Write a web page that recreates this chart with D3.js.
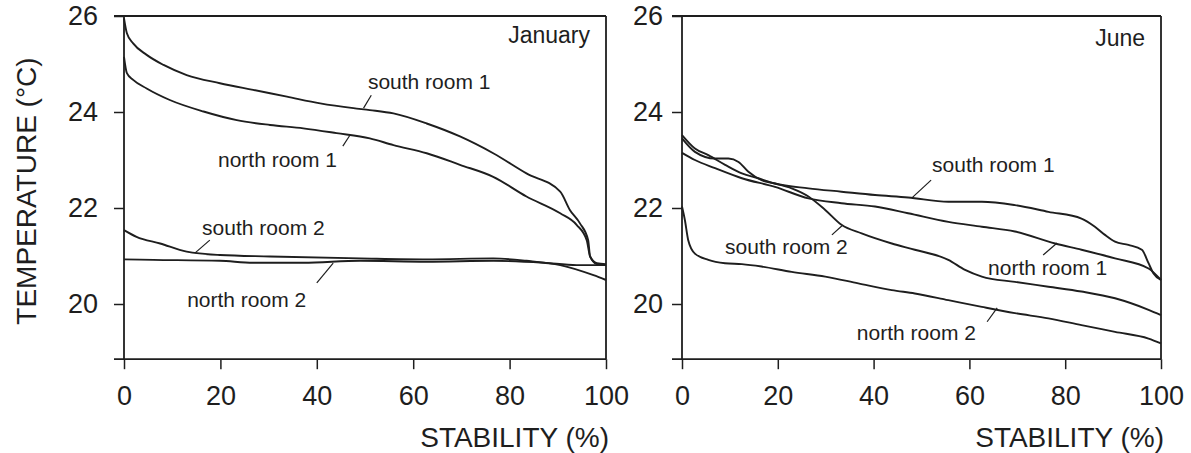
<!DOCTYPE html>
<html>
<head>
<meta charset="utf-8">
<script src="https://cdn.jsdelivr.net/npm/d3@7"></script>
<style>
  body { margin: 0; background: #fff; }
  svg { display: block; font-family: "Liberation Sans", Arial, Helvetica, sans-serif; }
</style>
</head>
<body>
<div id="chart"></div>
<script>
const width = 1191;
const height = 453;

// stability (%) , temperature (degC) pairs
const janSouth1 = [[0,25.95],[0.6,25.64],[1.9,25.43],[4.7,25.19],[8.2,24.98],[13,24.77],[19.9,24.6],[26.8,24.46],[33.8,24.32],[40.7,24.18],[47.6,24.08],[51,24.04],[55.9,23.97],[62.8,23.76],[69.7,23.49],[76.6,23.14],[83.5,22.72],[90.5,22.34],[92.5,21.96],[94.6,21.68],[96.3,21.33],[96.7,20.99],[98.1,20.85],[100,20.83]];
const janNorth1 = [[0,25.15],[0.6,24.81],[1.9,24.67],[4.7,24.49],[9.5,24.25],[16.5,24.01],[23.4,23.83],[30.3,23.73],[37.2,23.66],[44.1,23.56],[51,23.45],[55.9,23.31],[62.8,23.14],[69.7,22.9],[76.6,22.65],[83.5,22.24],[90.5,21.89],[93.9,21.65],[96,21.33],[96.7,20.99],[98.1,20.83],[100,20.81]];
const janSouth2 = [[0,21.54],[2.6,21.4],[7.5,21.26],[13,21.09],[19.9,21.02],[30.3,20.99],[49,20.95],[62.8,20.93],[76.6,20.95],[83.5,20.9],[90.5,20.81],[97.4,20.6],[100,20.5]];
const janNorth2 = [[0,20.93],[6.1,20.92],[19.9,20.9],[26.8,20.86],[37.2,20.86],[49,20.9],[62.8,20.88],[76.6,20.9],[87,20.86],[93.9,20.81],[100,20.81]];

const junSouth1 = [[0,23.52],[2.7,23.24],[5.5,23.1],[9,22.9],[12.5,22.72],[15.9,22.62],[19.4,22.51],[26.4,22.41],[33.3,22.34],[40.3,22.27],[47.2,22.22],[55.6,22.13],[62.6,22.13],[69.5,22.06],[76.5,21.92],[83.4,21.78],[86.2,21.61],[88.3,21.44],[90.4,21.3],[93.2,21.23],[96,21.13],[97.4,20.85],[98.4,20.64],[100,20.5]];
const junNorth1 = [[0,23.15],[2.7,23],[6.9,22.83],[12.5,22.62],[19.4,22.44],[26.4,22.2],[33.3,22.1],[40.3,22.03],[47.2,21.89],[55.6,21.71],[62.6,21.61],[69.5,21.51],[77.9,21.26],[83.4,21.13],[90.4,20.95],[97.4,20.74],[100,20.5]];
const junSouth2 = [[0,23.45],[2.7,23.17],[6.9,23.03],[9.7,23.03],[11.8,22.96],[13.8,22.76],[16.6,22.58],[19.4,22.51],[22.9,22.41],[26.4,22.24],[29.9,21.96],[33.3,21.65],[37.5,21.47],[43.8,21.26],[48.6,21.13],[55.6,20.92],[59.1,20.71],[62.6,20.57],[69.5,20.46],[76.5,20.36],[83.4,20.26],[90.4,20.12],[97.4,19.88],[100,19.77]];
const junNorth2 = [[0,22.03],[0.6,21.75],[1.3,21.33],[2.7,21.05],[5.5,20.92],[9,20.85],[12.5,20.83],[16.6,20.78],[22.9,20.67],[29.9,20.57],[36.8,20.43],[43.8,20.29],[48.6,20.22],[55.6,20.08],[62.6,19.94],[69.5,19.81],[76.5,19.7],[83.4,19.56],[90.4,19.42],[97.4,19.28],[100,19.18]];

const xTicks = [0, 20, 40, 60, 80, 100];
const yTicks = [20, 22, 24, 26];
const yMin = 18.85;
const yMax = 26;

// curve labels: text start + leader line, all in data units
const janLabels = [
  { text: "south room 1", s: 50.6, t: 24.63, from: [51.3, 24.35], to: [49.7, 24.08] },
  { text: "north room 1", s: 19.5, t: 23.0, from: [46.9, 23.52], to: [45.4, 23.29] },
  { text: "south room 2", s: 16.2, t: 21.58, from: [17.8, 21.33], to: [14.7, 21.06] },
  { text: "north room 2", s: 13.1, t: 20.08, from: [43.4, 20.85], to: [40.0, 20.44] }
];
const junLabels = [
  { text: "south room 1", s: 52.2, t: 22.9, from: [52.0, 22.58], to: [48.0, 22.21] },
  { text: "north room 1", s: 63.9, t: 20.75, from: [78.3, 21.27], to: [75.4, 21.02] },
  { text: "south room 2", s: 9.0, t: 21.19, from: [33.4, 21.63], to: [31.3, 21.44] },
  { text: "north room 2", s: 36.5, t: 19.4, from: [65.8, 19.92], to: [63.7, 19.63] }
];

const ink = "#1e1e1e";

const svg = d3.select("#chart")
  .append("svg")
  .attr("width", width)
  .attr("height", height);

svg.append("rect").attr("width", width).attr("height", height).attr("fill", "#fff");

const y = d3.scaleLinear().domain([20, yMax]).range([304, 16]);

function drawPanel(cfg) {
  const x = d3.scaleLinear().domain([0, 100]).range(cfg.range);
  const g = svg.append("g");
  const left = x(0), right = x(100), top = y(yMax), bottom = y(yMin);

  // x axis
  g.append("g")
    .attr("transform", `translate(0,${bottom})`)
    .call(d3.axisBottom(x).tickValues(xTicks).tickSize(10).tickPadding(17).tickFormat(d3.format("d")))
    .call(a => a.select(".domain").remove())
    .call(a => a.selectAll("line").attr("stroke", ink).attr("stroke-width", 1.5))
    .call(a => a.selectAll("text").attr("font-size", 27).attr("fill", ink).attr("font-family", null));

  // y axis
  g.append("g")
    .attr("transform", `translate(${left},0)`)
    .call(d3.axisLeft(y).tickValues(yTicks).tickSize(10).tickPadding(cfg.yPad).tickFormat(d3.format("d")))
    .call(a => a.select(".domain").remove())
    .call(a => a.selectAll("line").attr("stroke", ink).attr("stroke-width", 1.5))
    .call(a => a.selectAll("text").attr("font-size", 27).attr("fill", ink).attr("font-family", null));

  // frame
  const frame = [
    [left - 10, top, right, top],
    [left - 10, bottom, right, bottom],
    [left, top, left, bottom],
    [right, top, right, bottom]
  ];
  g.selectAll("line.frame")
    .data(frame)
    .enter()
    .append("line")
    .attr("class", "frame")
    .attr("x1", d => d[0]).attr("y1", d => d[1])
    .attr("x2", d => d[2]).attr("y2", d => d[3])
    .attr("stroke", ink)
    .attr("stroke-width", 1.8);

  const line = d3.line()
    .x(d => x(d[0]))
    .y(d => y(d[1]))
    .curve(d3.curveMonotoneX);

  g.selectAll("path.series")
    .data(cfg.series)
    .enter()
    .append("path")
    .attr("class", "series")
    .attr("d", line)
    .attr("fill", "none")
    .attr("stroke", ink)
    .attr("stroke-width", 1.9)
    .attr("stroke-linejoin", "round");

  // labels + leaders
  g.selectAll("line.leader")
    .data(cfg.labels)
    .enter()
    .append("line")
    .attr("class", "leader")
    .attr("x1", d => x(d.from[0])).attr("y1", d => y(d.from[1]))
    .attr("x2", d => x(d.to[0])).attr("y2", d => y(d.to[1]))
    .attr("stroke", ink)
    .attr("stroke-width", 1.2);

  g.selectAll("text.lab")
    .data(cfg.labels)
    .enter()
    .append("text")
    .attr("class", "lab")
    .attr("x", d => x(d.s))
    .attr("y", d => y(d.t) + 7)
    .attr("font-size", 21)
    .attr("fill", ink)
    .text(d => d.text);

  g.append("text")
    .attr("x", right - 16)
    .attr("y", cfg.monthY)
    .attr("text-anchor", "end")
    .attr("font-size", 23)
    .attr("fill", ink)
    .text(cfg.month);

  g.append("text")
    .attr("x", right + 3)
    .attr("y", 447)
    .attr("text-anchor", "end")
    .attr("font-size", 28)
    .attr("fill", ink)
    .text("STABILITY (%)");
}

drawPanel({
  range: [124, 606],
  yPad: 16,
  series: [janSouth1, janNorth1, janSouth2, janNorth2],
  labels: janLabels,
  month: "January",
  monthY: 43
});

drawPanel({
  range: [682, 1161],
  yPad: 9,
  series: [junSouth1, junNorth1, junSouth2, junNorth2],
  labels: junLabels,
  month: "June",
  monthY: 46
});

svg.append("text")
  .attr("transform", "translate(36,191) rotate(-90)")
  .attr("text-anchor", "middle")
  .attr("font-size", 28)
  .attr("fill", ink)
  .text("TEMPERATURE (°C)");
</script>
</body>
</html>
